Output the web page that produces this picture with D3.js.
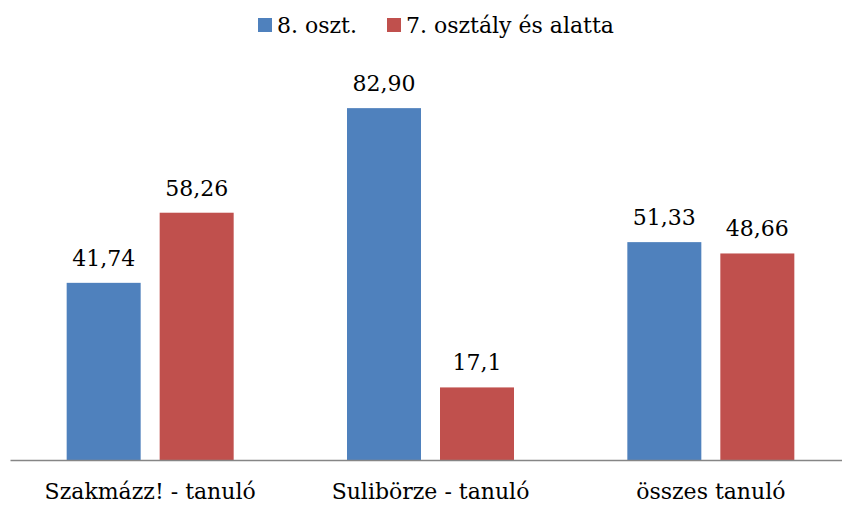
<!DOCTYPE html>
<html>
<head>
<meta charset="utf-8">
<script src="https://cdn.jsdelivr.net/npm/d3@7"></script>
<style>
  body { margin: 0; background: #fff; }
  text { font-family: "DejaVu Serif", "Liberation Serif", serif; fill: #000; }
</style>
</head>
<body>
<div id="chart"></div>
<script>
const categories = ["Szakmázz! - tanuló", "Sulibörze - tanuló", "összes tanuló"];
const seriesNames = ["8. oszt.", "7. osztály és alatta"];
const grade8 = [41.74, 82.90, 51.33];
const grade7 = [58.26, 17.1, 48.66];
const grade8Labels = ["41,74", "82,90", "51,33"];
const grade7Labels = ["58,26", "17,1", "48,66"];
const colors = ["#4f81bd", "#c0504d"];

const width = 842, height = 505;
const baseY = 460;

const svg = d3.select("#chart").append("svg")
  .attr("width", width)
  .attr("height", height);

const x = d3.scaleBand().domain(categories).range([10, 851]);
const y = d3.scaleLinear().domain([0, 90]).range([baseY, 78]);

const rows = categories.map((c, i) => ({
  cat: c,
  vals: [
    { s: 0, v: grade8[i], label: grade8Labels[i] },
    { s: 1, v: grade7[i], label: grade7Labels[i] }
  ]
}));

const barW = 74, gap = 19;
const xs = s => (s === 0 ? -gap / 2 - barW : gap / 2);

const g = svg.selectAll(".grp").data(rows).join("g")
  .attr("class", "grp")
  .attr("transform", d => `translate(${x(d.cat) + x.bandwidth() / 2},0)`);

g.selectAll("rect").data(d => d.vals).join("rect")
  .attr("x", d => xs(d.s))
  .attr("y", d => y(d.v))
  .attr("width", barW)
  .attr("height", d => y(0) - y(d.v))
  .attr("fill", d => colors[d.s]);

g.selectAll(".val").data(d => d.vals).join("text")
  .attr("class", "val")
  .attr("x", d => xs(d.s) + barW / 2)
  .attr("y", d => y(d.v) - 17)
  .attr("text-anchor", "middle")
  .style("font-size", "22px")
  .text(d => d.label);

// x axis
svg.append("g")
  .attr("transform", `translate(0,${baseY})`)
  .call(d3.axisBottom(x).tickSize(0).tickPadding(0))
  .call(a => a.select(".domain").attr("stroke", "#868686").attr("stroke-width", 1.5))
  .call(a => a.selectAll(".tick text")
    .attr("y", 39).attr("dy", null)
    .style("font-size", "22px")
    .style("font-family", "'DejaVu Serif', serif")
    .attr("fill", "#000"));

// legend
const legendX = [258, 387];
const lg = svg.selectAll(".leg").data(seriesNames).join("g")
  .attr("class", "leg")
  .attr("transform", (d, i) => `translate(${legendX[i]},18)`);
lg.append("rect").attr("width", 14).attr("height", 14).attr("fill", (d, i) => colors[i]);
lg.append("text")
  .attr("x", 19).attr("y", 15)
  .style("font-size", "22px")
  .text(d => d);
</script>
</body>
</html>
